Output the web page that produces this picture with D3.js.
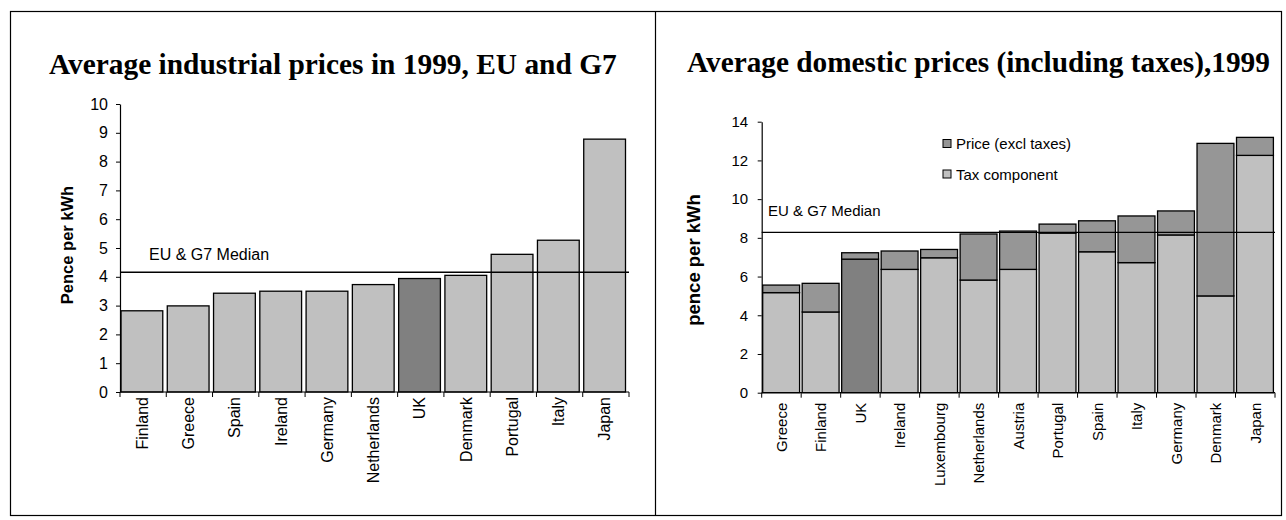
<!DOCTYPE html>
<html>
<head>
<meta charset="utf-8">
<script src="https://cdnjs.cloudflare.com/ajax/libs/d3/7.8.5/d3.min.js"></script>
<style>
  html, body { margin: 0; padding: 0; background: #fff; }
  svg { display: block; }
  .sans { font-family: "Liberation Sans", Arial, sans-serif; }
  .serif { font-family: "Liberation Serif", "Times New Roman", serif; font-weight: bold; }
</style>
</head>
<body>
<svg id="chart" width="1286" height="520"></svg>
<script>
// ---------- DATA ----------
const leftTitle = "Average industrial prices in 1999, EU and G7";
const leftCategories = ["Finland","Greece","Spain","Ireland","Germany","Netherlands","UK","Denmark","Portugal","Italy","Japan"];
const leftValues = [2.82, 2.99, 3.43, 3.50, 3.50, 3.73, 3.94, 4.05, 4.78, 5.27, 8.78];
const leftMedian = 4.16;
const leftTicks = [0,1,2,3,4,5,6,7,8,9,10];
const leftHighlight = "UK";

const rightTitle = "Average domestic prices (including taxes),1999";
const rightCategories = ["Greece","Finland","UK","Ireland","Luxembourg","Netherlands","Austria","Portugal","Spain","Italy","Germany","Denmark","Japan"];
// lower (light grey) segment — legend "Tax component"
const taxComponent = [5.17, 4.17, 6.90, 6.37, 6.97, 5.82, 6.37, 8.25, 7.28, 6.72, 8.15, 5.00, 12.26];
// upper (mid grey) segment — legend "Price (excl taxes)"
const priceExclTaxes = [0.39, 1.48, 0.33, 0.95, 0.43, 2.38, 1.98, 0.46, 1.60, 2.41, 1.24, 7.88, 0.93];
const rightMedian = 8.28;
const rightTicks = [0,2,4,6,8,10,12,14];
const rightHighlight = "UK";
const seriesNames = ["Price (excl taxes)", "Tax component"];

// ---------- STYLE ----------
const LIGHT = "#c0c0c0", MID = "#969696", DARK = "#808080";

const svg = d3.select("#chart");

// frame
svg.append("rect").attr("x", 10.5).attr("y", 11.5).attr("width", 1271).attr("height", 504)
  .attr("fill", "none").attr("stroke", "#000").attr("stroke-width", 1.2);
svg.append("line").attr("x1", 655.5).attr("x2", 655.5).attr("y1", 11.5).attr("y2", 515.5)
  .attr("stroke", "#000").attr("stroke-width", 1.2);

// ---------- LEFT CHART ----------
{
  const x = d3.scaleBand().domain(leftCategories).range([120, 629]).padding(0);
  const y = d3.scaleLinear().domain([0, 10]).range([392, 104]);
  const g = svg.append("g");

  svg.append("text").attr("class", "serif").attr("x", 49).attr("y", 74)
    .attr("font-size", 29.4).text(leftTitle);

  g.selectAll("rect.bar").data(leftCategories).join("rect").attr("class", "bar")
    .attr("x", (d) => x(d) + 1)
    .attr("width", x.bandwidth() - 4.5)
    .attr("y", (d, i) => y(leftValues[i]))
    .attr("height", (d, i) => y(0) - y(leftValues[i]))
    .attr("fill", d => d === leftHighlight ? DARK : LIGHT)
    .attr("stroke", "#000").attr("stroke-width", 1.3);

  // median line
  g.append("line").attr("x1", x.range()[0]).attr("x2", x.range()[1])
    .attr("y1", y(leftMedian)).attr("y2", y(leftMedian))
    .attr("stroke", "#000").attr("stroke-width", 1.4);
  g.append("text").attr("class", "sans").attr("x", 149).attr("y", 260)
    .attr("font-size", 16).text("EU & G7 Median");

  // y axis
  const ya = g.append("g").attr("transform", `translate(${x.range()[0]},0)`)
    .call(d3.axisLeft(y).tickValues(leftTicks).tickSize(4).tickSizeOuter(0).tickPadding(8));
  ya.selectAll("text").attr("class", "sans").attr("font-size", 16).attr("fill", "#000");
  ya.select(".domain").attr("stroke", "#000").attr("stroke-width", 1.2);

  // x axis
  const xa = g.append("g");
  xa.append("line").attr("x1", x.range()[0]).attr("x2", x.range()[1])
    .attr("y1", y(0)).attr("y2", y(0)).attr("stroke", "#000").attr("stroke-width", 1.2);
  const bounds = leftCategories.map(c => x(c)).concat([x.range()[1]]);
  xa.selectAll("line.tk").data(bounds).join("line").attr("class", "tk")
    .attr("x1", d => d).attr("x2", d => d).attr("y1", y(0)).attr("y2", y(0) + 5)
    .attr("stroke", "#000").attr("stroke-width", 1);
  xa.selectAll("text.lbl").data(leftCategories).join("text").attr("class", "sans lbl")
    .attr("transform", d => `translate(${x(d) + x.bandwidth() / 2 - 1},${y(0) + 5}) rotate(-90)`)
    .attr("text-anchor", "end").attr("dy", "0.35em").attr("font-size", 16).text(d => d);

  // y label
  svg.append("text").attr("class", "sans").attr("font-weight", "bold").attr("font-size", 16.5)
    .attr("text-anchor", "middle")
    .attr("transform", "translate(73,245) rotate(-90)").text("Pence per kWh");
}

// ---------- RIGHT CHART ----------
{
  const x = d3.scaleBand().domain(rightCategories).range([761.7, 1275]).padding(0);
  const y = d3.scaleLinear().domain([0, 14]).range([392.7, 121.7]);
  const g = svg.append("g");

  svg.append("text").attr("class", "serif").attr("x", 687).attr("y", 72)
    .attr("font-size", 29.3).text(rightTitle);

  const table = rightCategories.map((c, i) => ({ cat: c, tax: taxComponent[i], price: priceExclTaxes[i] }));
  const stack = d3.stack().keys(["tax", "price"])(table);

  g.selectAll("g.layer").data(stack).join("g").attr("class", "layer")
    .selectAll("rect").data(d => d.map(p => ({ p, key: d.key }))).join("rect")
    .attr("x", d => x(d.p.data.cat) + 1)
    .attr("width", x.bandwidth() - 2.6)
    .attr("y", d => y(d.p[1]))
    .attr("height", d => y(d.p[0]) - y(d.p[1]))
    .attr("fill", d => d.key === "price" ? MID : (d.p.data.cat === rightHighlight ? DARK : LIGHT))
    .attr("stroke", "#000").attr("stroke-width", 1.3);

  g.append("line").attr("x1", x.range()[0]).attr("x2", x.range()[1])
    .attr("y1", y(rightMedian)).attr("y2", y(rightMedian))
    .attr("stroke", "#000").attr("stroke-width", 1.4);
  g.append("text").attr("class", "sans").attr("x", 768).attr("y", 216)
    .attr("font-size", 15).text("EU & G7 Median");

  const ya = g.append("g").attr("transform", `translate(${x.range()[0]},0)`)
    .call(d3.axisLeft(y).tickValues(rightTicks).tickSize(4).tickSizeOuter(0).tickPadding(9.5));
  ya.selectAll("text").attr("class", "sans").attr("font-size", 15).attr("fill", "#000");
  ya.select(".domain").attr("stroke", "#000").attr("stroke-width", 1.2);

  const xa = g.append("g");
  xa.append("line").attr("x1", x.range()[0]).attr("x2", x.range()[1])
    .attr("y1", y(0)).attr("y2", y(0)).attr("stroke", "#000").attr("stroke-width", 1.2);
  const bounds = rightCategories.map(c => x(c)).concat([x.range()[1]]);
  xa.selectAll("line.tk").data(bounds).join("line").attr("class", "tk")
    .attr("x1", d => d).attr("x2", d => d).attr("y1", y(0)).attr("y2", y(0) + 5)
    .attr("stroke", "#000").attr("stroke-width", 1);
  xa.selectAll("text.lbl").data(rightCategories).join("text").attr("class", "sans lbl")
    .attr("transform", d => `translate(${x(d) + x.bandwidth() / 2},${y(0) + 10}) rotate(-90)`)
    .attr("text-anchor", "end").attr("dy", "0.35em").attr("font-size", 15).text(d => d);

  svg.append("text").attr("class", "sans").attr("font-weight", "bold").attr("font-size", 18.5)
    .attr("text-anchor", "middle")
    .attr("transform", "translate(700,260) rotate(-90)").text("pence per kWh");

  // legend
  const legColors = [MID, LIGHT];
  const leg = g.append("g");
  seriesNames.forEach((name, i) => {
    const cy = 143.5 + i * 30.5;
    leg.append("rect").attr("x", 943).attr("y", cy - 4).attr("width", 8).attr("height", 8)
      .attr("fill", legColors[i]).attr("stroke", "#000").attr("stroke-width", 1);
    leg.append("text").attr("class", "sans").attr("x", 956).attr("y", cy + 5.5)
      .attr("font-size", 15).text(name);
  });
}
</script>
</body>
</html>
